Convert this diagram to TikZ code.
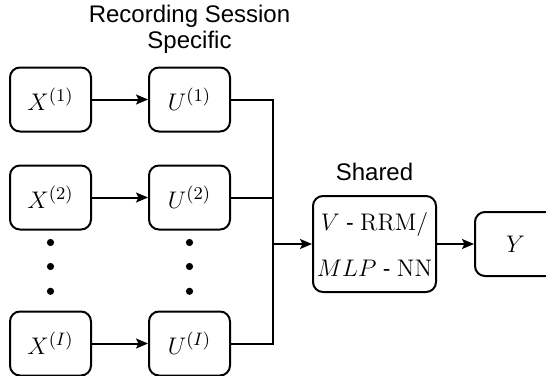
\documentclass[tikz,border=0pt]{standalone}
\usepackage{amsmath}
\usepackage[no-math]{fontspec}
\setmainfont{Liberation Sans}
\usepackage{tikz}
\usetikzlibrary{
    arrows.meta,
    positioning,
    calc
}

\begin{document}
\begin{tikzpicture}[
        node distance=16pt and 28pt,
        block/.style={
            rectangle,
            rounded corners=5pt,
            draw,
            line width=1pt,
            align=center,
            minimum width=40.5pt,
            minimum height=32pt,
            inner sep=1pt,
            font=\fontsize{13}{15}\selectfont
        },
        shared/.style={
            block,
            minimum width=61.5pt,
            minimum height=48pt,
            font=\fontsize{11.5}{14}\selectfont
        },
        caption/.style={
            align=center,
            inner sep=0pt,
            font=\fontsize{12}{13}\selectfont
        },
        vdot/.style={
            circle,
            fill,
            inner sep=0pt,
            minimum size=3.6pt
        },
        line/.style={
            -{Stealth[length=6pt,width=5pt,inset=1.2pt]},
            line width=1pt
        },
        wire/.style={
            line width=1pt
        }
    ]

    \useasboundingbox (0,0) rectangle (273pt,-187.5pt);

    % session specific inputs
    \node[block] (x1) at (25.25pt,-49.75pt)
        {$X^{(1)}$};

    \node[block, right=of x1] (u1)
        {$U^{(1)}$};

    \node[block, below=of x1] (x2)
        {$X^{(2)}$};

    \node[block, right=of x2] (u2)
        {$U^{(2)}$};

    \node[block, below=40pt of x2] (xI)
        {$X^{(I)}$};

    \node[block, right=of xI] (uI)
        {$U^{(I)}$};

    \foreach \f/\k in {0.15/a, 0.45/b, 0.76/c} {
        \node[vdot] (xdot\k) at ($(x2.south)!\f!(xI.north)$) {};
        \node[vdot] (udot\k) at ($(u2.south)!\f!(uI.north)$) {};
    }

    \node[caption, above=6.5pt of u1] (sessionlbl)
        {Recording Session\\Specific};

    % shared part
    \node[shared] (rrm) at (187.25pt,-122pt)
        {$V$ - $\mathrm{RRM}/$\\[9pt]$MLP$ - $\mathrm{NN}$};

    \node[caption, above=7pt of rrm] (sharedlbl)
        {Shared};

    \node[block, right=18.5pt of rrm, font=\fontsize{12}{14}\selectfont] (y)
        {$Y$};

    \coordinate (bustop) at ($(u1.east)+(21pt,0)$);
    \coordinate (busbot) at ($(uI.east)+(21pt,0)$);

    \draw[line] (x1) -- (u1);
    \draw[line] (x2) -- (u2);
    \draw[line] (xI) -- (uI);

    \draw[wire]
        (u1.east) -- (bustop)
        -- (busbot)
        -- (uI.east);

    \draw[wire] (u2.east) -- (u2.east -| bustop);

    \draw[line] (bustop |- rrm.west) -- (rrm.west);
    \draw[line] (rrm) -- (y);

\end{tikzpicture}
\end{document}
